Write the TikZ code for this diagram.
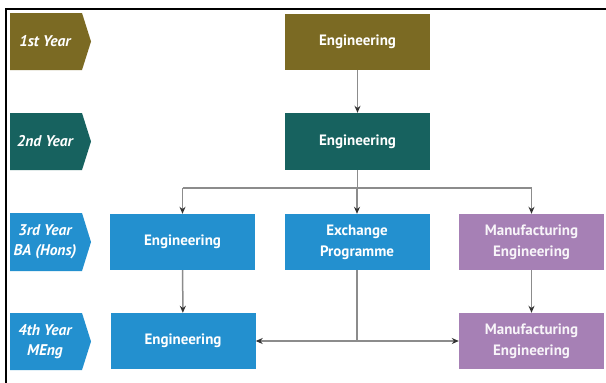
\documentclass[tikz,border=0pt]{standalone}
\usepackage{fontspec}
\setmainfont{PT Sans}
\usetikzlibrary{arrows.meta}
\definecolor{olive1}{HTML}{7B6A23}
\definecolor{teal1}{HTML}{17625F}
\definecolor{blue1}{HTML}{2390CF}
\definecolor{purple1}{HTML}{A680B5}
\definecolor{line1}{HTML}{8C8C8C}
\begin{document}
\begin{tikzpicture}[x=1pt,y=-1pt,
  box/.style={minimum width=145pt,minimum height=56pt,inner sep=0pt,text=white,
    font=\bfseries\fontsize{15}{21}\selectfont,align=center},
  yearlbl/.style={text=white,font=\bfseries\itshape\fontsize{15.5}{20}\selectfont,align=center,inner sep=0pt},
  conn/.style={draw=line1,line width=1.5pt},
  arr/.style={conn,-{Stealth[length=7pt,width=6pt,color=black!80]}}
]
\useasboundingbox (0,0) rectangle (606,383);
\fill[white] (0,0) rectangle (606,383);
% frame
\draw[black,line width=2pt] (6,383) -- (6,8.5) -- (606,8.5);
% year chevrons
\fill[olive1] (10,13) -- (82,13) -- (91,41.5) -- (82,70) -- (10,70) -- cycle;
\node[yearlbl] (y1) at (45,41.5) {1st Year};
\fill[teal1] (10,113) -- (82,113) -- (91,141.5) -- (82,170) -- (10,170) -- cycle;
\node[yearlbl] (y2) at (45,141.5) {2nd Year};
\fill[blue1] (10,213) -- (82,213) -- (91,242) -- (82,271) -- (10,271) -- cycle;
\node[yearlbl] (y3) at (45,242) {3rd Year\\BA (Hons)};
\fill[blue1] (10,313) -- (82,313) -- (91,341.5) -- (82,370) -- (10,370) -- cycle;
\node[yearlbl] (y4) at (45,341.5) {4th Year\\MEng};
% boxes
\node[box,fill=olive1] (e1) at (357.5,42) {Engineering};
\node[box,fill=teal1,minimum height=57pt] (e2) at (357.5,141.5) {Engineering};
\node[box,fill=blue1] (e3) at (182.5,242) {Engineering};
\node[box,fill=blue1] (x3) at (357,242) {Exchange\\Programme};
\node[box,fill=purple1,text=white!92!purple1] (m3) at (531.5,242) {Manufacturing\\Engineering};
\node[box,fill=blue1] (e4) at (183,341) {Engineering};
\node[box,fill=purple1,text=white!92!purple1] (m4) at (531.5,341) {Manufacturing\\Engineering};
% connectors
\draw[arr] (e1) -- (e2);
\coordinate (b) at (357.5,188);
\draw[conn] (e2.south) -- (b);
\draw[conn] (e3.north |- b) -- (m3.north |- b);
\draw[arr] (e3.north |- b) -- (e3.north);
\draw[arr] (x3.north |- b) -- (x3.north);
\draw[arr] (m3.north |- b) -- (m3.north);
\draw[arr] (e3) -- (e4);
\draw[arr] (m3) -- (m4);
\coordinate (j) at (x3.south |- e4.east);
\draw[conn] (x3.south) -- (j);
\draw[arr] (j) -- (e4.east);
\draw[arr] (j) -- (m4.west);
\end{tikzpicture}
\end{document}
